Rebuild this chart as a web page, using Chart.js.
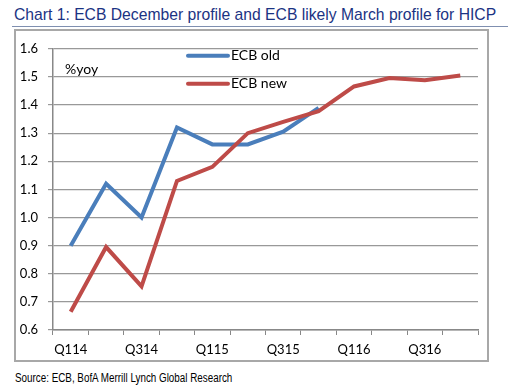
<!DOCTYPE html>
<html>
<head>
<meta charset="utf-8">
<script src="https://cdn.jsdelivr.net/npm/chart.js@4.4.1/dist/chart.umd.min.js"></script>
<style>
  body { margin: 0; width: 518px; height: 392px; background: #fff; position: relative; overflow: hidden; }
  #title { position: absolute; left: 14px; top: 6px; font: 15.7px "Liberation Sans Narrow", "Arial Narrow", sans-serif; color: #1b3383; white-space: nowrap; }
  #rule { position: absolute; left: 12px; top: 26px; width: 496px; height: 1px; background: #7f8fb0; }
  #frame { position: absolute; left: 14px; top: 29px; width: 471px; height: 329px; border: 2px solid #a8a8a8; }
  #chartBox { position: absolute; left: 0; top: 0; width: 471px; height: 329px; }
  #source { position: absolute; left: 15px; top: 371px; font: 12px "Liberation Sans Narrow", "Arial Narrow", sans-serif; color: #000; white-space: nowrap; transform: scaleX(0.82); transform-origin: left top; }
</style>
</head>
<body>
<div id="title">Chart 1: ECB December profile and ECB likely March profile for HICP</div>
<div id="rule"></div>
<div id="frame"><div id="chartBox"><canvas id="hicpChart" width="471" height="329"></canvas></div></div>
<div id="source">Source: ECB, BofA Merrill Lynch Global Research</div>
<script>
// quarters and the two ECB projections (%yoy)
const quarters = ['Q114', 'Q214', 'Q314', 'Q414', 'Q115', 'Q215', 'Q315', 'Q415', 'Q116', 'Q216', 'Q316', 'Q416'];
const ecbOld = [0.90, 1.12, 1.00, 1.32, 1.26, 1.26, 1.305, 1.39, null, null, null, null];
const ecbNew = [0.665, 0.895, 0.755, 1.13, 1.18, 1.30, 1.34, 1.378, 1.466, 1.496, 1.488, 1.505];
const yTicks = [0.6, 0.7, 0.8, 0.9, 1.0, 1.1, 1.2, 1.3, 1.4, 1.5, 1.6];

const blue = '#4a7ebb';
const red = '#be4b48';
const labelFont = { family: 'Lato, "Open Sans", sans-serif', size: 13 };

// legend and unit text drawn inside the plot area
const insideText = {
    id: 'insideText',
    afterDatasetsDraw(chart) {
        const ctx = chart.ctx;
        const area = chart.chartArea;
        ctx.save();
        ctx.font = '14px Lato, "Open Sans", sans-serif';
        ctx.fillStyle = '#000';
        ctx.textBaseline = 'middle';
        ctx.fillText('%yoy', area.left + 12, area.top + 21);
        const items = [{ text: 'ECB old', color: blue }, { text: 'ECB new', color: red }];
        items.forEach((item, i) => {
            const y = area.top + 7 + i * 28;
            ctx.strokeStyle = item.color;
            ctx.lineWidth = 4;
            ctx.lineCap = 'round';
            ctx.beginPath();
            ctx.moveTo(area.left + 135, y);
            ctx.lineTo(area.left + 175, y);
            ctx.stroke();
            ctx.fillText(item.text, area.left + 178, y);
        });
        ctx.restore();
    }
};

new Chart(document.getElementById('hicpChart'), {
    type: 'line',
    data: {
        labels: quarters,
        datasets: [
            { label: 'ECB old', data: ecbOld, borderColor: blue, borderWidth: 4, pointRadius: 0, tension: 0, order: 1 },
            { label: 'ECB new', data: ecbNew, borderColor: red, borderWidth: 4, pointRadius: 0, tension: 0, order: 0 }
        ]
    },
    options: {
        responsive: false,
        animation: false,
        devicePixelRatio: 1,
        layout: { padding: { left: 0, right: 9, top: 14, bottom: 0 } },
        plugins: { legend: { display: false }, tooltip: { enabled: false } },
        scales: {
            x: {
                offset: true,
                grid: { offset: true, drawOnChartArea: false, tickLength: 5, color: '#888' },
                border: { color: '#888', width: 1.5 },
                ticks: {
                    autoSkip: false, maxRotation: 0, padding: 7, color: '#000', font: labelFont,
                    callback: (v, i) => (i % 2 === 0 ? quarters[i] : '')
                },
                afterFit: (scale) => { scale.height = 30; }
            },
            y: {
                min: 0.6, max: 1.6,
                afterBuildTicks: (scale) => { scale.ticks = yTicks.map(v => ({ value: v })); },
                grid: { color: '#999', lineWidth: 1.2, tickLength: 5, borderDash: [5, 3], tickBorderDash: [5, 3] },
                border: { color: '#888', width: 1.5 },
                ticks: { autoSkip: false, padding: 10, color: '#000', font: labelFont, callback: (v) => v.toFixed(1) },
                afterFit: (scale) => { scale.width = 37; }
            }
        }
    },
    plugins: [insideText]
});
</script>
</body>
</html>
